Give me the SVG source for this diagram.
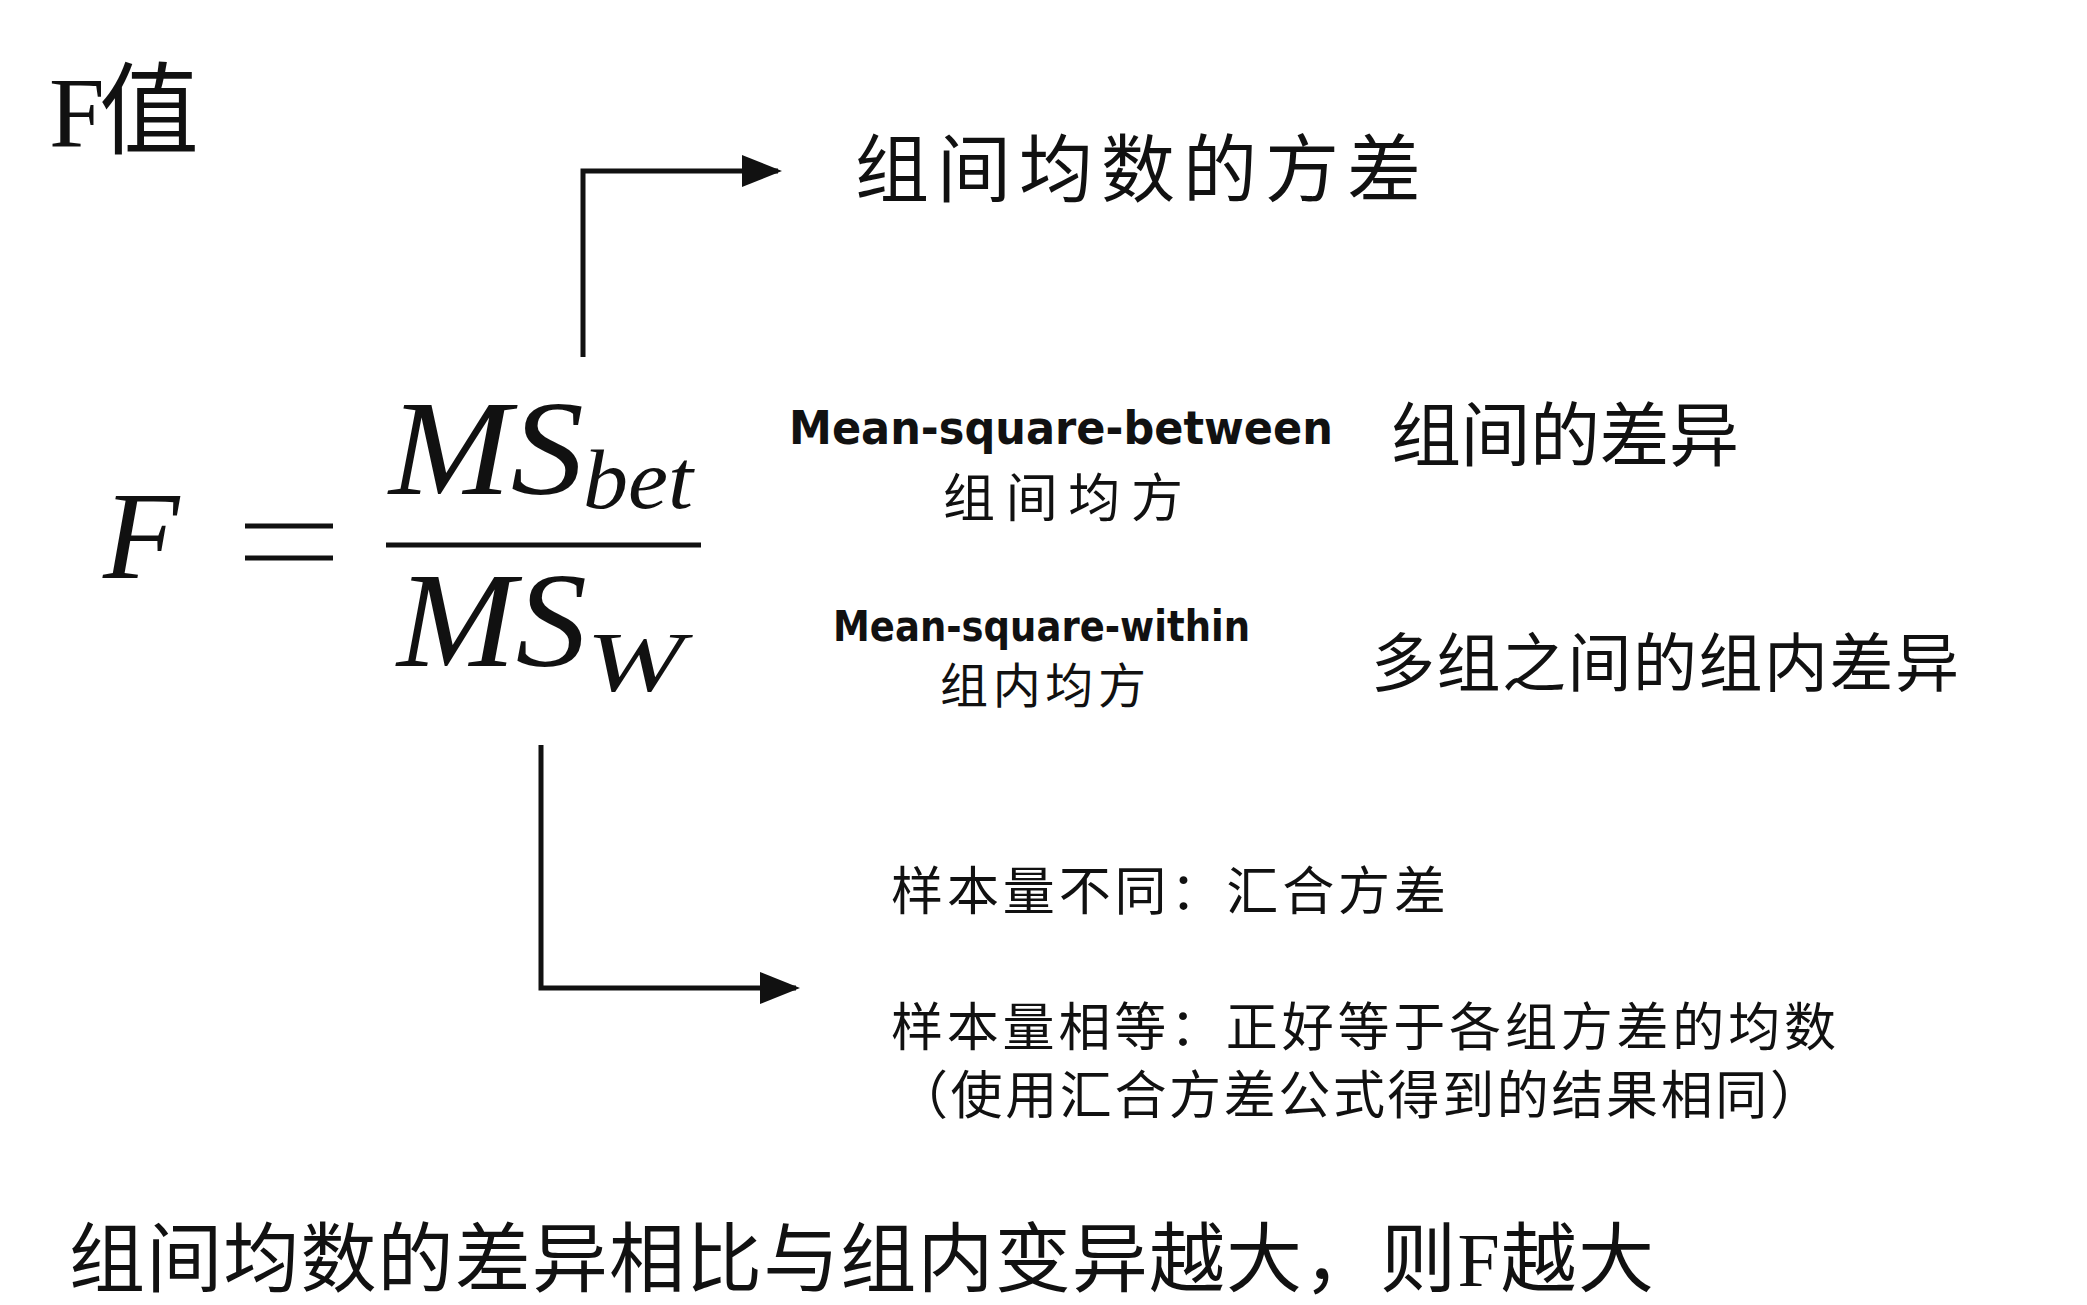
<svg xmlns="http://www.w3.org/2000/svg" width="2087" height="1305" viewBox="0 0 2087 1305">
<style>
.cj{font-family:"Liberation Serif","Noto Sans CJK SC",serif;fill:#111}
.m{font-family:"Liberation Serif",serif;font-style:italic;fill:#111}
.en{font-family:"DejaVu Sans","Liberation Sans",sans-serif;font-weight:bold;fill:#111}
.ln{stroke:#111;stroke-width:5;fill:none}
</style>
<defs>
<marker id="ah2" viewBox="0 0 10 8" refX="9" refY="4" markerWidth="40" markerHeight="32" markerUnits="userSpaceOnUse" orient="auto"><path d="M0,0L10,4L0,8z" fill="#111"/></marker></defs>
<rect width="2087" height="1305" fill="#fff"/>
<g transform="translate(-9,-4)">
<g id="title"><text class="cj" x="58" y="150" font-size="100" textLength="150">F值</text></g>
<g id="formula">
<text class="m" x="112" y="582" font-size="125">F</text>
<line class="ln" x1="254" y1="530" x2="342" y2="530"/>
<line class="ln" x1="254" y1="562" x2="342" y2="562"/>
<text class="m" x="398" y="498" font-size="135" textLength="195" lengthAdjust="spacingAndGlyphs">MS</text>
<text class="m" x="592" y="512" font-size="84" textLength="110" lengthAdjust="spacingAndGlyphs">bet</text>
<line class="ln" x1="395" y1="549" x2="710" y2="549"/>
<text class="m" x="406" y="670" font-size="135" textLength="190" lengthAdjust="spacingAndGlyphs">MS</text>
<text class="m" x="595" y="695" font-size="84" textLength="98" lengthAdjust="spacingAndGlyphs">W</text>
</g>
<g id="connectors">
<polyline class="ln" points="592,361 592,175 787,175" marker-end="url(#ah2)"/>
<polyline class="ln" points="550,749 550,992 805,992" marker-end="url(#ah2)"/>
</g>
<g id="between">
<text class="cj" x="864" y="200" font-size="74" textLength="566">组间均数的方差</text>
<text class="en" x="798" y="448" font-size="46" textLength="544" lengthAdjust="spacingAndGlyphs">Mean-square-between</text>
<text class="cj" x="952" y="521" font-size="52" textLength="240">组间均方</text>
<text class="cj" x="1400" y="465" font-size="70" textLength="348">组间的差异</text>
</g>
<g id="within">
<text class="en" x="842" y="645" font-size="42" textLength="417" lengthAdjust="spacingAndGlyphs">Mean-square-within</text>
<text class="cj" x="949" y="707" font-size="48" textLength="206">组内均方</text>
<text class="cj" x="1380" y="690" font-size="64" textLength="588">多组之间的组内差异</text>
</g>
<g id="notes">
<text class="cj" x="900" y="914" font-size="52" textLength="555">样本量不同：汇合方差</text>
<text class="cj" x="900" y="1050" font-size="52" textLength="945">样本量相等：正好等于各组方差的均数</text>
<text class="cj" x="905" y="1118" font-size="52" textLength="926">（使用汇合方差公式得到的结果相同）</text>
</g>
<g id="bottom"><text class="cj" x="78" y="1290" font-size="76" textLength="1585">组间均数的差异相比与组内变异越大，则F越大</text></g>
</g>
</svg>
